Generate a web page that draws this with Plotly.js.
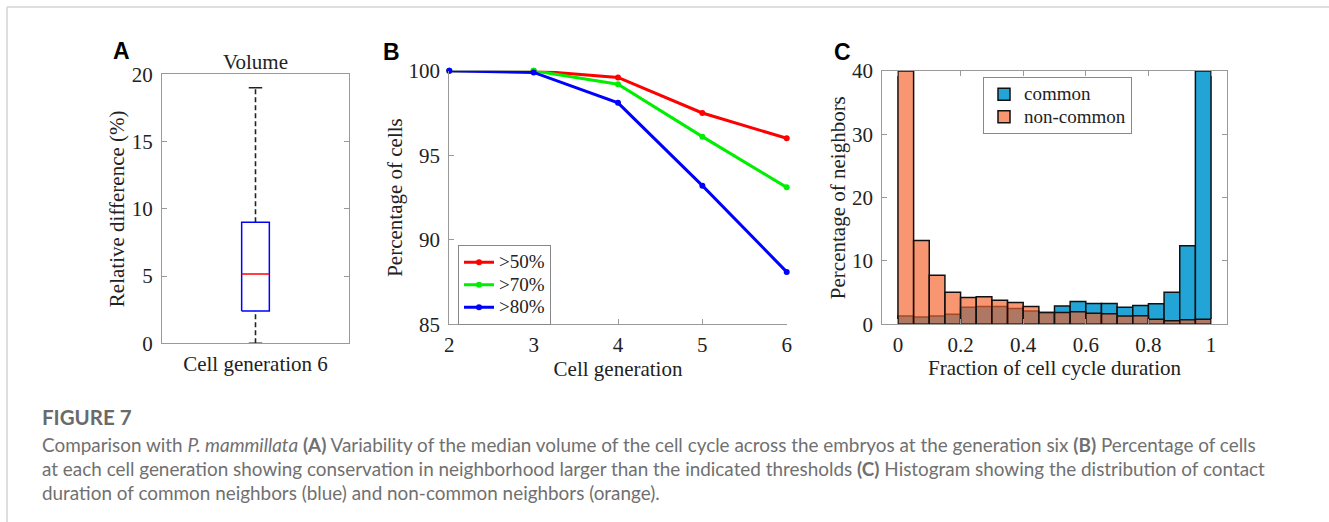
<!DOCTYPE html>
<html>
<head>
<meta charset="utf-8">
<script src="https://cdn.plot.ly/plotly-3.0.1.min.js"></script>
<style>
html,body{margin:0;padding:0;background:#fff;}
#chart{width:1329px;height:522px;}
</style>
</head>
<body>
<div id="chart"></div>
<script>
// ---------- Panel A: box plot statistics ----------
const boxCategory = ['Cell generation 6'];
const boxQ1 = [2.4];
const boxMedian = [5.15];
const boxQ3 = [9.0];
const boxWhiskerLow = [0];
const boxWhiskerHigh = [19.0];

// ---------- Panel B: percentage of cells ----------
const generations = [2, 3, 4, 5, 6];
const pct50 = [100, 100, 99.6, 97.5, 96.0];
const pct70 = [100, 100, 99.2, 96.1, 93.1];
const pct80 = [100, 99.9, 98.1, 93.2, 88.1];
const seriesNamesB = ['>50%', '>70%', '>80%'];

// ---------- Panel C: histogram ----------
const binLeft = [0, 0.05, 0.1, 0.15, 0.2, 0.25, 0.3, 0.35, 0.4, 0.45,
                 0.5, 0.55, 0.6, 0.65, 0.7, 0.75, 0.8, 0.85, 0.9, 0.95];
const commonPct = [1.3, 1.15, 1.3, 1.6, 2.7, 2.8, 2.8, 2.5, 2.1, 1.85,
                   2.9, 3.6, 3.3, 3.3, 2.7, 2.95, 3.25, 5.05, 12.4, 40];
const nonCommonPct = [40, 13.25, 7.75, 5.05, 4.25, 4.35, 3.8, 3.45, 2.8, 1.85,
                      1.85, 2.0, 1.75, 1.65, 1.3, 1.35, 0.8, 0.55, 0.7, 0.8];
const seriesNamesC = ['common', 'non-common'];
const xTicksC = [0, 0.2, 0.4, 0.6, 0.8, 1];
const xTickTextC = ['0', '0.2', '0.4', '0.6', '0.8', '1'];

const W = 1329, H = 522;
const px = v => v / W;
const py = v => 1 - v / H;
const SERIF = 'Liberation Serif, Times New Roman, serif';
const AXC = '#9a9a9a';
const legendLabel = s => '<span style="font-size:19px;font-family:Liberation Serif,Times New Roman,serif">' +
  s.replace(/>/g, '&gt;') + '</span>';

// box geometry helpers (positions in axis units around category index 1)
const bx = 1, bw = 0.074, cw = 0.036;
const traces = [];
traces.push({
  type: 'scatter', mode: 'lines', xaxis: 'x', yaxis: 'y', showlegend: false, cliponaxis: false,
  x: [bx, bx, null, bx, bx],
  y: [boxQ3[0], boxWhiskerHigh[0], null, boxWhiskerLow[0], boxQ1[0]],
  line: {color: '#222', width: 1.6, dash: '5px,3px'}, hoverinfo: 'skip'
});
traces.push({
  type: 'scatter', mode: 'lines', xaxis: 'x', yaxis: 'y', showlegend: false, cliponaxis: false,
  x: [bx - cw, bx + cw, null, bx - cw, bx + cw],
  y: [boxWhiskerHigh[0], boxWhiskerHigh[0], null, boxWhiskerLow[0], boxWhiskerLow[0]],
  line: {color: '#222', width: 1.6}, hoverinfo: 'skip'
});
traces.push({
  type: 'scatter', mode: 'lines', xaxis: 'x', yaxis: 'y', showlegend: false,
  x: [bx - bw, bx + bw, bx + bw, bx - bw, bx - bw],
  y: [boxQ1[0], boxQ1[0], boxQ3[0], boxQ3[0], boxQ1[0]],
  line: {color: '#0000ff', width: 1.5}, name: boxCategory[0]
});
traces.push({
  type: 'scatter', mode: 'lines', xaxis: 'x', yaxis: 'y', showlegend: false,
  x: [bx - bw, bx + bw], y: [boxMedian[0], boxMedian[0]],
  line: {color: '#ff0000', width: 1.5}
});

// Panel B lines
const colorsB = ['#ff0000', '#00ee00', '#0000ff'];
[pct50, pct70, pct80].forEach((vals, i) => {
  traces.push({
    type: 'scatter', mode: 'lines+markers', xaxis: 'x2', yaxis: 'y2',
    x: generations, y: vals, name: legendLabel(seriesNamesB[i]), legend: 'legend', cliponaxis: false,
    line: {color: colorsB[i], width: 3}, marker: {color: colorsB[i], size: 6}
  });
});

// Panel C histogram
traces.push({
  type: 'bar', xaxis: 'x3', yaxis: 'y3', x: binLeft, y: commonPct, width: 0.05, offset: 0,
  name: legendLabel(seriesNamesC[0]), legend: 'legend2',
  marker: {color: '#22a4d6', line: {color: '#111', width: 1.5}}
});
traces.push({
  type: 'bar', xaxis: 'x3', yaxis: 'y3', x: binLeft, y: nonCommonPct, width: 0.05, offset: 0,
  name: legendLabel(seriesNamesC[1]), legend: 'legend2',
  marker: {color: 'rgba(245,99,43,0.67)', line: {color: '#111', width: 1.5}}
});

const tickFont = {family: SERIF, size: 21, color: '#222'};
const titleFont = {family: SERIF, size: 21, color: '#222'};

const capFont = {family: 'Lato, Noto Sans, sans-serif', size: 18.9, color: '#707070'};
const captionLines = [
  'Comparison with <i>P. mammillata</i> <b>(A)</b> Variability of the median volume of the cell cycle across the embryos at the generation six <b>(B)</b> Percentage of cells',
  'at each cell generation showing conservation in neighborhood larger than the indicated thresholds <b>(C)</b> Histogram showing the distribution of contact',
  'duration of common neighbors (blue) and non-common neighbors (orange).'
];

const annotations = [
  {text: 'Volume', x: px(255.5), y: py(62), xref: 'paper', yref: 'paper', showarrow: false,
   xanchor: 'center', yanchor: 'middle', font: titleFont},
  {text: '<b>A</b>', x: px(111), y: py(51), xref: 'paper', yref: 'paper', showarrow: false,
   xanchor: 'left', yanchor: 'middle', font: {family: 'Liberation Sans, Arial, sans-serif', size: 23, color: '#000'}},
  {text: '<b>B</b>', x: px(381), y: py(52), xref: 'paper', yref: 'paper', showarrow: false,
   xanchor: 'left', yanchor: 'middle', font: {family: 'Liberation Sans, Arial, sans-serif', size: 23, color: '#000'}},
  {text: '<b>C</b>', x: px(832), y: py(52), xref: 'paper', yref: 'paper', showarrow: false,
   xanchor: 'left', yanchor: 'middle', font: {family: 'Liberation Sans, Arial, sans-serif', size: 23, color: '#000'}},
  {text: '<b>FIGURE 7</b>', x: px(40), y: py(417), xref: 'paper', yref: 'paper', showarrow: false,
   xanchor: 'left', yanchor: 'middle', font: {family: 'Lato, Noto Sans, sans-serif', size: 20.5, color: '#6a6a6a'}}
];
captionLines.forEach((t, i) => {
  annotations.push({text: t, x: px(40), y: py(444 + 24 * i), xref: 'paper', yref: 'paper', showarrow: false,
    xanchor: 'left', yanchor: 'middle', font: capFont});
});

const layout = {
  width: W, height: H, margin: {l: 0, r: 0, t: 0, b: 0},
  paper_bgcolor: '#fff', plot_bgcolor: '#fff', showlegend: true,
  font: {family: SERIF, color: '#222'},
  barmode: 'overlay', bargap: 0,
  // Panel A
  xaxis: {domain: [px(162), px(349)], range: [0.5, 1.5], tickvals: [bx], ticktext: boxCategory,
    showline: true, mirror: true, linecolor: AXC, linewidth: 1, ticks: '', showgrid: false, zeroline: false,
    tickfont: tickFont, anchor: 'y', fixedrange: true, ticklabelstandoff: 1},
  yaxis: {domain: [py(343.3), py(74.3)], range: [0, 20], dtick: 5, showline: true, mirror: 'ticks',
    linecolor: AXC, ticks: 'inside', ticklen: 5, tickcolor: AXC, showgrid: false, zeroline: false,
    tickfont: tickFont, anchor: 'x', ticklabelstandoff: 4,
    title: {text: 'Relative difference (%)', font: titleFont, standoff: 1}},
  // Panel B
  xaxis2: {domain: [px(449.3), px(786.7)], range: [2, 6], dtick: 1, showline: true, mirror: false,
    linecolor: AXC, ticks: 'inside', ticklen: 5, tickcolor: AXC, showgrid: false, zeroline: false,
    tickfont: tickFont, anchor: 'y2', ticklabelstandoff: 1,
    title: {text: 'Cell generation', font: titleFont, standoff: 5}},
  yaxis2: {domain: [py(324.3), py(70.7)], range: [85, 100], dtick: 5, showline: true, mirror: false,
    linecolor: AXC, ticks: 'inside', ticklen: 5, tickcolor: AXC, showgrid: false, zeroline: false,
    tickfont: tickFont, anchor: 'x2', ticklabelstandoff: 4,
    title: {text: 'Percentage of cells', font: titleFont, standoff: 0}},
  // Panel C
  xaxis3: {domain: [px(882.3), px(1226.7)], range: [-0.05, 1.05], tickvals: xTicksC, ticktext: xTickTextC,
    showline: true, mirror: 'ticks', linecolor: AXC, ticks: 'inside', ticklen: 5, tickcolor: AXC,
    showgrid: false, zeroline: false, tickfont: tickFont, anchor: 'y3', ticklabelstandoff: 1,
    title: {text: 'Fraction of cell cycle duration', font: titleFont, standoff: 4}},
  yaxis3: {domain: [py(324.3), py(71)], range: [0, 40], dtick: 10, showline: true, mirror: 'ticks',
    linecolor: AXC, ticks: 'inside', ticklen: 5, tickcolor: AXC, showgrid: false, zeroline: false,
    tickfont: tickFont, anchor: 'x3', ticklabelstandoff: 4,
    title: {text: 'Percentage of neighbors', font: titleFont, standoff: 0}},
  legend: {x: px(458), y: py(245), xanchor: 'left', yanchor: 'top', bgcolor: '#fff',
    bordercolor: '#888', borderwidth: 1, font: {family: SERIF, size: 15, color: '#222'},
    tracegroupgap: 0, itemwidth: 30},
  legend2: {x: px(983), y: py(77), xanchor: 'left', yanchor: 'top', bgcolor: '#fff',
    bordercolor: '#888', borderwidth: 1, font: {family: SERIF, size: 15, color: '#222'},
    tracegroupgap: 0, itemwidth: 30},
  annotations: annotations,
  shapes: [
    {type: 'line', xref: 'paper', yref: 'paper', x0: px(7), x1: 1, y0: py(7), y1: py(7),
     line: {color: '#d4d4d4', width: 1.5}},
    {type: 'line', xref: 'paper', yref: 'paper', x0: px(7), x1: px(7), y0: py(7), y1: 0,
     line: {color: '#d4d4d4', width: 1.5}}
  ]
};

Plotly.newPlot('chart', traces, layout, {staticPlot: true, displayModeBar: false});
</script>
</body>
</html>
